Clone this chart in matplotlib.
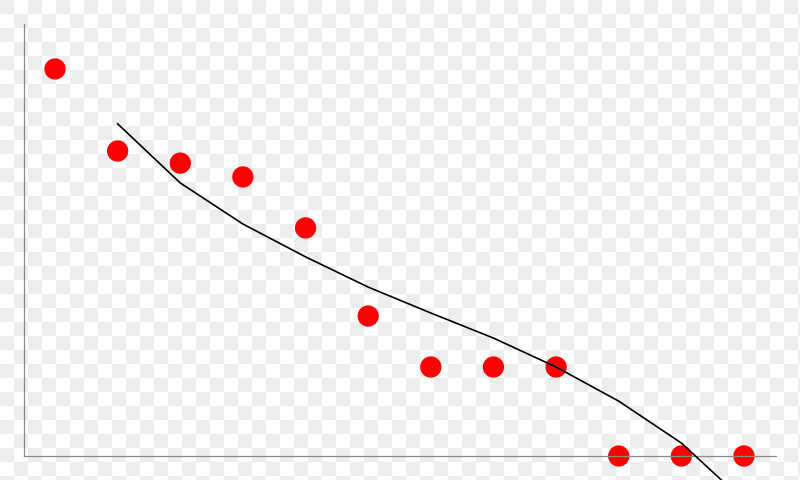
import numpy as np
import matplotlib
matplotlib.use("Agg")
import matplotlib.pyplot as plt

# Data
x_points = list(range(12))
y_points = [8.96, 7.06, 6.78, 6.46, 5.28, 3.24, 2.06, 2.06, 2.06, 0.0, 0.0, 0.0]
x_line = list(range(1, 12))
y_line = [7.69, 6.32, 5.37, 4.61, 3.91, 3.31, 2.73, 2.06, 1.27, 0.30, -1.04]

W, H, DPI = 800, 480, 100
fig = plt.figure(figsize=(W / DPI, H / DPI), dpi=DPI)

# checkerboard background
sq = 14
ny, nx = H // sq + 1, W // sq + 1
jj, ii = np.meshgrid(np.arange(nx), np.arange(ny))
checker = ((ii + jj) % 2 == 0)
img = np.where(checker[..., None], np.array([237, 237, 237]) / 255, np.array([255, 255, 255]) / 255)
bg = fig.add_axes([0, 0, 1, 1])
bg.imshow(img, extent=[0, nx * sq, ny * sq, 0], interpolation="nearest", aspect="auto")
bg.set_xlim(0, W)
bg.set_ylim(H, 0)
bg.axis("off")

ax = fig.add_axes([24 / W, 24 / H, (776 - 24) / W, (456 - 24) / H])
ax.patch.set_alpha(0)
ax.plot(x_line, y_line, color="black", lw=1.2, clip_on=False, zorder=3)
ax.scatter(x_points, y_points, s=235, color="#ff0000", edgecolors="none", clip_on=False, zorder=2)

px = (744 - 55) / 11
ax.set_xlim(-(55 - 24) / px, 11 + (776 - 744) / px)
ax.set_ylim(0, 10)
for s in ["top", "right"]:
    ax.spines[s].set_visible(False)
for s in ["left", "bottom"]:
    ax.spines[s].set_color("#8a8a8a")
    ax.spines[s].set_linewidth(0.9)
ax.set_xticks([])
ax.set_yticks([])

fig.savefig("out.png", dpi=DPI)
